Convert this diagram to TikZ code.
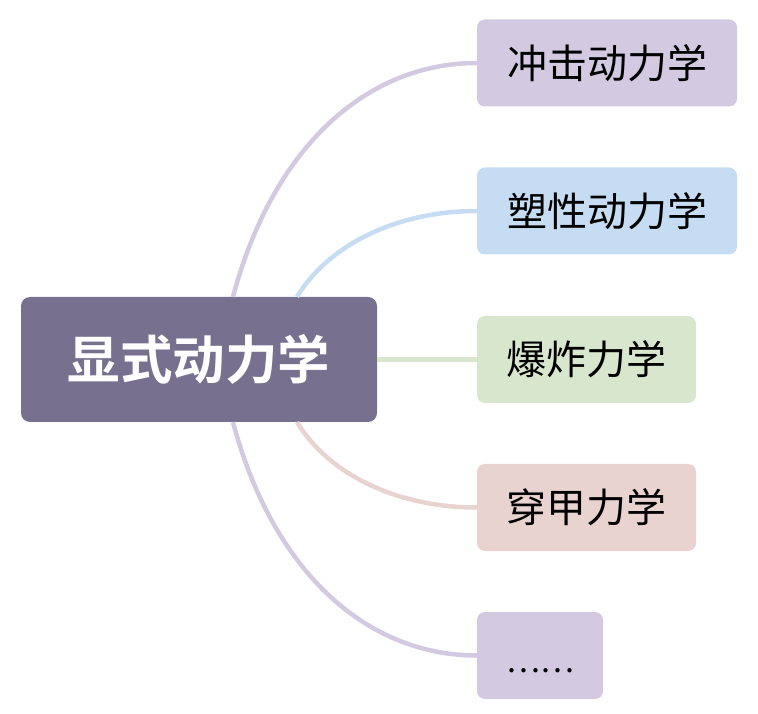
\documentclass[tikz,border=0pt]{standalone}
\usepackage{fontspec}
\setmainfont{Noto Sans CJK SC}
\newfontfamily\cjkbold{Noto Sans CJK SC Bold}
\definecolor{rootc}{HTML}{77718F}
\definecolor{purp}{HTML}{D3CAE1}
\definecolor{blu}{HTML}{C5DCF2}
\definecolor{grn}{HTML}{D9E6CE}
\definecolor{pnk}{HTML}{E8D3D0}
\tikzset{
  rootbox/.style={fill=rootc, rounded corners=9pt, minimum width=356pt, minimum height=125pt, inner sep=0pt, text=white, font=\cjkbold\fontsize{52.5}{58}\selectfont},
  childbox/.style={rounded corners=8pt, minimum height=87pt, inner sep=0pt, text=black, font=\fontsize{40}{46}\selectfont},
  conn/.style={line width=4.5pt}
}
\begin{document}
\begin{tikzpicture}[x=1pt,y=1pt]
\useasboundingbox (0,0) rectangle (758,713);
\node[rootbox] (root) at (199,353.5) {显式动力学};
\node[childbox, fill=purp, minimum width=260pt] (c1) at (607,650) {冲击动力学};
\node[childbox, fill=blu, minimum width=260pt] (c2) at (607,502) {塑性动力学};
\node[childbox, fill=grn, minimum width=219pt] (c3) at (586.5,353.5) {爆炸力学};
\node[childbox, fill=pnk, minimum width=219pt] (c4) at (586.5,205.5) {穿甲力学};
\node[childbox, fill=purp, minimum width=126pt] (c5) at (540,57.5) {\raisebox{-2pt}[0pt][0pt]{\fontsize{32}{36}\selectfont ……}\vphantom{冲}};
\draw[conn, purp] ([xshift=34pt]root.north) .. controls +(40,150) and +(-110,0) .. (c1.west);
\draw[conn, blu] ([xshift=98pt]root.north) .. controls +(33,54) and +(-77,0) .. (c2.west);
\draw[conn, grn] (root.east) -- (c3.west);
\draw[conn, pnk] ([xshift=98pt]root.south) .. controls +(33,-54) and +(-77,0) .. (c4.west);
\draw[conn, purp] ([xshift=34pt]root.south) .. controls +(40,-150) and +(-110,0) .. (c5.west);
\end{tikzpicture}
\end{document}
